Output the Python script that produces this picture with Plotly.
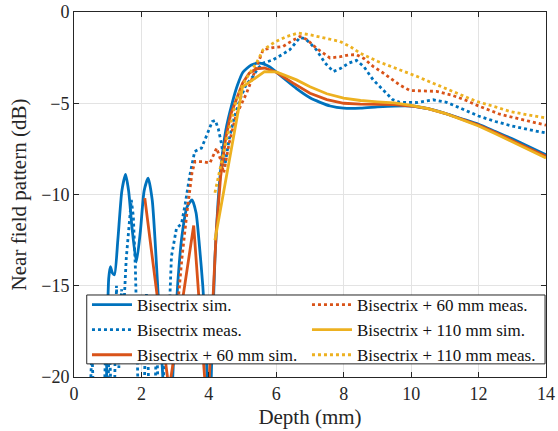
import plotly.graph_objects as go

# Depth (mm) and near-field level (dB) for each configuration
bis_sim_x = [0.95, 0.99, 1.03, 1.08, 1.14, 1.2, 1.3, 1.42, 1.53, 1.62, 1.72, 1.85, 1.97, 2.08, 2.2,
             2.32, 2.42, 2.52, 2.62, 2.7, 2.8, 2.9, 2.98, 3.08, 3.2, 3.35, 3.5, 3.62, 3.72, 3.82,
             3.9, 3.97, 4.03, 4.1, 4.18, 4.27, 4.37, 4.5, 4.69, 4.85, 5.01, 5.26, 5.5, 5.8, 6.2,
             6.6, 7.0, 7.3, 7.6, 8.0, 8.5, 9.0, 9.5, 10.0, 10.5, 11.0, 11.5, 12.0, 12.5, 13.0,
             13.5, 14.0]
bis_sim_y = [-22, -17, -14.6, -13.95, -14.3, -14.4, -12.5, -9.8, -8.9, -9.8, -11.8, -13.7, -12.0,
             -9.8, -9.1, -10.3, -13.0, -16.3, -19.5, -22, -23, -21, -18, -14.8, -12.3, -10.7,
             -10.3, -11.0, -12.8, -15.0, -17.5, -21, -22, -18, -13.5, -10.5, -8.3, -6.5, -5.0,
             -4.0, -3.3, -2.9, -2.8, -3.0, -3.6, -4.2, -4.7, -4.95, -5.15, -5.27, -5.27, -5.2,
             -5.15, -5.15, -5.3, -5.55, -5.85, -6.15, -6.55, -6.95, -7.38, -7.82]

bis_meas_x = [0.48, 0.53, 0.58, 0.9, 0.95, 1.0, 1.05, 1.1, 1.2, 1.26, 1.33, 1.41, 1.47, 1.55, 1.62,
              1.7, 1.76, 1.82, 1.86, 1.9, 2.08, 2.15, 2.22, 2.4, 2.45, 2.5, 2.62, 2.7, 2.76, 2.84,
              2.89, 3.04, 3.19, 3.3, 3.43, 3.58, 3.78, 3.95, 4.1, 4.19, 4.28, 4.37, 4.47, 4.6,
              4.75, 4.92, 5.1, 5.31, 5.45, 5.61, 5.9, 6.2, 6.4, 6.7, 6.85, 7.0, 7.19, 7.45, 7.69,
              7.9, 8.15, 8.38, 8.6, 8.87, 9.17, 9.45, 9.66, 10.16, 10.65, 11.05, 11.25, 11.6,
              12.0, 12.5, 13.0, 13.5, 14.0]
bis_meas_y = [-21, -18.5, -21, -21, -17.5, -21, -18, -21, -21, -15.0, -19.5, -15.2, -16.5, -13.5,
              -12.0, -10.3, -11.2, -14.0, -17, -21, -21, -15.4, -21, -21, -18, -21, -21, -18.5,
              -17, -15.8, -13.4, -11.85, -11.6, -10.5, -9.0, -7.64, -7.46, -6.7, -6.0, -5.94,
              -6.4, -7.18, -8.46, -7.0, -5.8, -4.81, -4.0, -3.53, -3.1, -2.8, -2.62, -2.3, -2.07,
              -1.4, -1.45, -1.7, -2.07, -2.8, -3.26, -3.1, -2.8, -2.65, -3.0, -3.71, -4.3, -4.8,
              -4.95, -4.96, -4.81, -4.95, -5.1, -5.4, -5.7, -6.0, -6.25, -6.45, -6.63]

b60_sim_x = [2.1, 2.82, 3.55, 3.96, 4.12, 4.22, 4.35, 4.5, 4.65, 4.77, 5.0, 5.2, 5.4, 5.65, 6.0,
             6.5, 7.0, 7.5, 8.0, 8.5, 9.0, 9.5, 10.0, 10.5, 11.0, 11.5, 12.0, 12.5, 13.0, 13.5,
             14.0]
b60_sim_y = [-10.2, -20.7, -11.7, -22.2, -15.8, -12.0, -9.0, -6.9, -5.6, -5.0, -3.9, -3.35, -3.12,
             -3.07, -3.3, -3.9, -4.45, -4.8, -5.0, -5.05, -5.05, -5.07, -5.15, -5.3, -5.55, -5.87,
             -6.2, -6.6, -7.05, -7.48, -7.9]

b60_meas_x = [3.09, 3.2, 3.35, 3.5, 3.59, 3.8, 4.03, 4.1, 4.23, 4.35, 4.44, 4.6, 4.8, 5.12, 5.41,
              5.61, 5.9, 6.2, 6.45, 6.7, 6.9, 7.2, 7.59, 7.9, 8.15, 8.38, 8.6, 8.87, 9.17, 9.66,
              9.96, 10.35, 10.75, 11.2, 11.64, 12.0, 12.63, 13.3, 14.0]
b60_meas_y = [-15.8, -13.5, -11.0, -8.8, -8.19, -8.2, -8.28, -8.0, -7.46, -8.1, -8.83, -7.2, -5.7,
              -4.44, -2.98, -2.07, -1.95, -1.89, -1.6, -1.34, -1.5, -2.0, -2.52, -2.45, -2.35,
              -2.34, -2.55, -2.98, -3.34, -4.0, -4.3, -4.33, -4.35, -4.55, -4.85, -5.15, -5.6,
              -5.9, -6.2]

b110_sim_x = [4.18, 5.0, 5.3, 5.65, 6.0, 6.6, 7.0, 7.5, 8.0, 8.5, 9.0, 9.5, 10.0, 10.5, 11.0,
              11.5, 12.0, 12.5, 13.0, 13.5, 14.0]
b110_sim_y = [-12.5, -4.1, -3.72, -3.27, -3.28, -3.72, -4.1, -4.48, -4.72, -4.85, -4.92, -4.98,
              -5.12, -5.3, -5.55, -5.88, -6.25, -6.67, -7.1, -7.55, -8.0]

b110_meas_x = [4.18, 4.35, 4.52, 4.82, 5.0, 5.21, 5.41, 5.61, 6.0, 6.3, 6.65, 7.0, 7.4, 7.88, 8.2,
               8.48, 9.0, 9.66, 10.2, 10.65, 11.3, 11.94, 12.5, 12.93, 13.5, 14.0]
b110_meas_y = [-9.9, -8.4, -7.0, -4.8, -4.0, -3.35, -2.8, -2.07, -1.6, -1.35, -1.15, -1.25, -1.4,
               -1.61, -1.9, -2.25, -2.7, -3.16, -3.55, -3.9, -4.4, -4.9, -5.2, -5.45, -5.65, -5.81]

BLUE, ORANGE, YELLOW = "#0072BD", "#D95319", "#EDB120"
FONT = "Liberation Serif, Times New Roman, serif"
INK = "#262626"

# (name, x, y, colour, dash, legend column)
series = [
    ("Bisectrix sim.", bis_sim_x, bis_sim_y, BLUE, "solid", "legend"),
    ("Bisectrix meas.", bis_meas_x, bis_meas_y, BLUE, "dot", "legend"),
    ("Bisectrix + 60 mm sim.", b60_sim_x, b60_sim_y, ORANGE, "solid", "legend"),
    ("Bisectrix + 60 mm meas.", b60_meas_x, b60_meas_y, ORANGE, "dot", "legend2"),
    ("Bisectrix + 110 mm sim.", b110_sim_x, b110_sim_y, YELLOW, "solid", "legend2"),
    ("Bisectrix + 110 mm meas.", b110_meas_x, b110_meas_y, YELLOW, "dot", "legend2"),
]

fig = go.Figure()
for name, xs, ys, col, dash, leg in series:
    fig.add_trace(go.Scatter(
        x=xs, y=ys, mode="lines", name=name, legend=leg,
        line=dict(color=col, width=2.8, dash=dash,
                  shape="spline" if dash == "solid" and col == BLUE else "linear",
                  smoothing=0.6),
    ))

axis_common = dict(
    showline=True, linecolor=INK, linewidth=1, mirror="ticks",
    ticks="inside", ticklen=5, tickwidth=1, tickcolor=INK,
    showgrid=True, gridcolor="#e3e3e3", gridwidth=1, zeroline=False,
    tickfont=dict(family=FONT, size=18, color=INK),
    automargin=False,
)

# framed white panel behind the two legend columns
fig.add_shape(type="rect", xref="paper", yref="paper",
              x0=0.027, x1=0.998, y0=0.036, y1=0.2247,
              fillcolor="white", line=dict(color=INK, width=1), layer="above")

legend_common = dict(
    y=0.2466, xanchor="left", yanchor="top", orientation="v",
    bgcolor="rgba(0,0,0,0)", borderwidth=0,
    font=dict(family=FONT, size=17, color="#111111"),
    itemwidth=40, tracegroupgap=0,
)

fig.update_layout(
    width=558, height=431,
    margin=dict(l=74, r=12, t=12, b=54, autoexpand=False),
    paper_bgcolor="white", plot_bgcolor="white",
    font=dict(family=FONT, color=INK),
    xaxis=dict(range=[0, 14], dtick=2, tick0=0,
               title=dict(text="Depth (mm)", font=dict(family=FONT, size=21, color=INK),
                          standoff=6),
               **axis_common),
    yaxis=dict(range=[-20, 0], dtick=5, tick0=0,
               title=dict(text="Near field pattern (dB)",
                          font=dict(family=FONT, size=21, color=INK), standoff=8),
               **axis_common),
    legend=dict(x=0.0275, **legend_common),
    legend2=dict(x=0.4936, **legend_common),
    showlegend=True,
)

fig.write_html("out.html")
